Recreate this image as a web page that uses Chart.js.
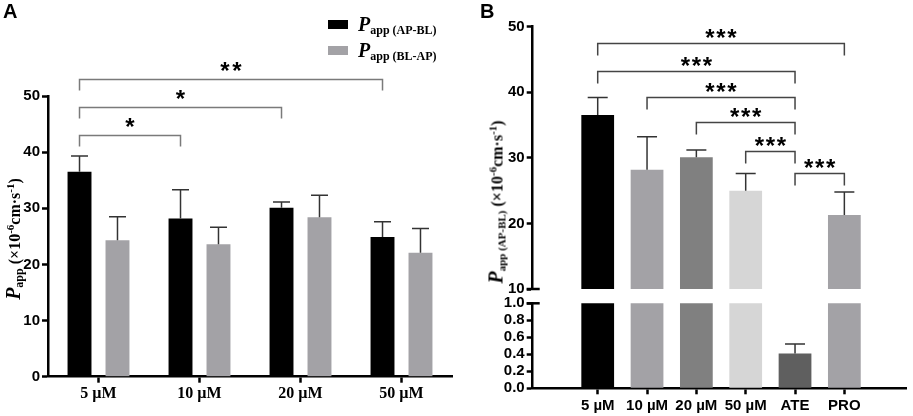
<!DOCTYPE html>
<html>
<head>
<meta charset="utf-8">
<script src="https://cdn.jsdelivr.net/npm/chart.js@4.4.1/dist/chart.umd.min.js"></script>
<style>
  body { margin: 0; background: #fff; }
  #wrap { position: relative; width: 913px; height: 416px; overflow: hidden; font-family: "Liberation Serif", serif; }
  canvas { position: absolute; }
  .panel { position: absolute; font: bold 20px "Liberation Sans", Arial, sans-serif; }
  .ytitle { position: absolute; white-space: nowrap; font-weight: bold; font-size: 16px; transform: translate(-50%, -50%) rotate(-90deg); }
  .ytitle i, .legend i { font-size: 20px; }
  .ytitle sub, .legend sub { font-size: 12px; vertical-align: -3px; }
  .ytitle sub.small { font-size: 11px; }
  .ytitle sup { font-size: 11px; vertical-align: 6px; }
  .legend { position: absolute; font-weight: bold; white-space: nowrap; }
  .sw { position: absolute; width: 20px; height: 9px; }
</style>
</head>
<body>
<div id="wrap">
  <canvas id="chartA" width="460" height="416" style="left:0;top:0"></canvas>
  <canvas id="chartBTop" width="453" height="300" style="left:460px;top:0"></canvas>
  <canvas id="chartBBottom" width="453" height="126" style="left:460px;top:290px"></canvas>

  <div class="panel" style="left:3px;top:0">A</div>
  <div class="panel" style="left:480px;top:0">B</div>

  <div class="sw" style="left:328px;top:20px;background:#000"></div>
  <div class="legend" style="left:358px;top:13px"><i>P</i><sub>app (AP-BL)</sub></div>
  <div class="sw" style="left:328px;top:46px;background:#a3a2a6"></div>
  <div class="legend" style="left:358px;top:39px"><i>P</i><sub>app (BL-AP)</sub></div>

  <div class="ytitle" style="left:14px;top:239px"><i>P</i><sub>app</sub> (×10<sup>-6</sup>cm·s<sup>-1</sup>)</div>
  <div class="ytitle" style="left:496px;top:202px"><i>P</i><sub class="small">app (AP-BL)</sub> (×10<sup>-6</sup>cm·s<sup>-1</sup>)</div>
</div>

<script>
// panel A: concentrations, both directions
const concLabels = ['5 µM', '10 µM', '20 µM', '50 µM'];
const papApBl = [36.5, 28.2, 30.1, 24.9];
const papApBlSd = [2.8, 5.1, 1.0, 2.7];
const papBlAp = [24.3, 23.6, 28.4, 22.1];
const papBlApSd = [4.2, 3.0, 3.9, 4.3];
const bracketsA = [[0, 1, 43.1, '*'], [0, 2, 48, '*'], [0, 3, 53, '**']];

// panel B: AP-BL only, with controls
const groupLabels = ['5 µM', '10 µM', '20 µM', '50 µM', 'ATE', 'PRO'];
const groupValues = [36.55, 28.2, 30.1, 25.0, 0.41, 21.3];
const groupSd = [2.65, 5.0, 1.1, 2.6, 0.11, 3.5];
const groupColors = ['#000000', '#a3a2a6', '#808080', '#d6d6d6', '#5f5f5f', '#a3a2a6'];
const bracketsB = [[0, 5, 47.5, '***'], [0, 4, 43.3, '***'], [1, 4, 39.3, '***'],
                   [2, 4, 35.4, '***'], [3, 4, 31.1, '***'], [4, 5, 27.7, '***']];
const upperTicksB = [10, 20, 30, 40, 50];
const lowerTicksB = [0, 0.2, 0.4, 0.6, 0.8, 1.0];

const tickFont = { family: '"Liberation Sans", Arial, sans-serif', size: 15, weight: 'bold' };

const errorBars = {
    id: 'errorBars',
    afterDatasetsDraw(chart, args, opts) {
        const { ctx, chartArea } = chart;
        ctx.save();
        ctx.beginPath();
        ctx.rect(chartArea.left, chartArea.top - 2, chartArea.width, chartArea.height + 2);
        ctx.clip();
        ctx.lineWidth = opts.width;
        ctx.strokeStyle = opts.color;
        chart.data.datasets.forEach((ds, di) => {
            const meta = chart.getDatasetMeta(di);
            const yScale = chart.scales[meta.yAxisID];
            meta.data.forEach((bar, i) => {
                const raw = ds.data[i];
                const v = typeof raw === 'object' ? raw.y : raw;
                const top = yScale.getPixelForValue(v + opts.sd[di][i]);
                ctx.beginPath();
                ctx.moveTo(bar.x, bar.y);
                ctx.lineTo(bar.x, top);
                ctx.moveTo(bar.x - opts.cap / 2, top);
                ctx.lineTo(bar.x + opts.cap / 2, top);
                ctx.stroke();
            });
        });
        ctx.restore();
    }
};

const brackets = {
    id: 'brackets',
    afterDraw(chart, args, opts) {
        if (!opts.list) return;
        const { ctx } = chart;
        const meta = chart.getDatasetMeta(0);
        const yScale = chart.scales.y;
        ctx.save();
        ctx.lineWidth = opts.width;
        ctx.strokeStyle = opts.color;
        ctx.fillStyle = '#000';
        ctx.font = 'bold 24px "Liberation Sans", Arial, sans-serif';
        ctx.textAlign = 'center';
        ctx.textBaseline = 'alphabetic';
        opts.list.forEach(([from, to, level, mark]) => {
            const x1 = meta.data[from].x;
            const x2 = meta.data[to].x;
            const py = Math.round(yScale.getPixelForValue(level)) + 0.5;
            ctx.beginPath();
            ctx.moveTo(x1, py + opts.drop);
            ctx.lineTo(x1, py);
            ctx.lineTo(x2, py);
            ctx.lineTo(x2, py + opts.drop);
            ctx.stroke();
            const mid = (x1 + x2) / 2;
            const n = mark.length;
            for (let k = 0; k < n; k++) {
                const sx = mid + (k - (n - 1) / 2) * opts.starGap;
                ctx.fillText('*', sx, py - opts.lift + 13.8);
            }
        });
        ctx.restore();
    }
};

const axisBreak = {
    id: 'axisBreak',
    afterDraw(chart, args, opts) {
        if (!opts.edge) return;
        const { ctx, chartArea } = chart;
        const y = opts.edge === 'top' ? chartArea.top : chartArea.bottom;
        ctx.save();
        ctx.strokeStyle = '#000';
        ctx.lineWidth = 2.5;
        ctx.beginPath();
        ctx.moveTo(chartArea.left - 6, y);
        ctx.lineTo(chartArea.left + 7, y);
        ctx.stroke();
        ctx.restore();
    }
};

function axisStyle() {
    return {
        border: { display: true, color: '#000', width: 2.5 },
        grid: { display: true, drawOnChartArea: false, drawTicks: true, tickLength: 6, tickWidth: 2.5, tickColor: '#000', offset: false }
    };
}

// ---- panel A
new Chart(document.getElementById('chartA'), {
    type: 'bar',
    data: {
        labels: concLabels,
        datasets: [
            { label: 'AP-BL', data: papApBl, backgroundColor: '#000000' },
            { label: 'BL-AP', data: papBlAp, backgroundColor: '#a3a2a6' }
        ]
    },
    options: {
        responsive: false,
        animation: false,
        categoryPercentage: 0.752,
        barPercentage: 0.63,
        layout: { padding: { left: 0, top: 96, right: 8, bottom: 0 } },
        plugins: {
            legend: { display: false },
            tooltip: { enabled: false },
            errorBars: { sd: [papApBlSd, papBlApSd], cap: 17, width: 1.5, color: '#333' },
            brackets: { list: bracketsA, drop: 11, lift: 14, starGap: 12, width: 1.5, color: '#7a7a7a' }
        },
        scales: {
            x: {
                ...axisStyle(),
                afterFit: (scale) => { scale.height = 39.3; },
                ticks: { color: '#000', padding: 2, font: { family: '"Liberation Serif", serif', size: 16, weight: 'bold' } }
            },
            y: {
                ...axisStyle(),
                min: 0, max: 50,
                afterFit: (scale) => { scale.width = 48; },
                ticks: { stepSize: 10, color: '#000', padding: 2, font: tickFont }
            }
        }
    },
    plugins: [errorBars, brackets]
});

// ---- panel B (broken axis: two charts sharing the same x range)
const xRange = { type: 'linear', min: -0.686, max: 5.632 };
const barsB = groupValues.map((v, i) => ({ x: i, y: v }));

function panelBOptions(top) {
    const yTicks = top ? upperTicksB : lowerTicksB;
    return {
        responsive: false,
        animation: false,
        categoryPercentage: 1,
        barPercentage: 0.664,
        layout: top
            ? { padding: { left: 0, top: 26.7, right: 6.3, bottom: 10.7 } }
            : { padding: { left: 0, top: 13.3, right: 6.3, bottom: 0 } },
        plugins: {
            legend: { display: false },
            tooltip: { enabled: false },
            errorBars: { sd: [groupSd], cap: 20, width: 1.5, color: '#333' },
            brackets: top ? { list: bracketsB, drop: 12, lift: 11.6, starGap: 11, width: 1.5, color: '#444' } : {},
            axisBreak: { edge: top ? 'bottom' : 'top' }
        },
        scales: {
            x: top
                ? { ...xRange, display: false }
                : {
                    ...xRange,
                    ...axisStyle(),
                    afterFit: (scale) => { scale.height = 27.7; },
                    afterBuildTicks: (scale) => { scale.ticks = groupLabels.map((_, i) => ({ value: i })); },
                    ticks: { color: '#000', padding: 3, autoSkip: false, font: tickFont, callback: (v) => groupLabels[v] }
                },
            y: {
                ...axisStyle(),
                min: yTicks[0], max: yTicks[yTicks.length - 1],
                afterFit: (scale) => { scale.width = 72.7; },
                afterBuildTicks: (scale) => { scale.ticks = yTicks.map((v) => ({ value: v })); },
                ticks: {
                    color: '#000', padding: 2, autoSkip: false, font: tickFont,
                    callback: (v) => top ? String(v) : v.toFixed(1)
                }
            }
        }
    };
}

new Chart(document.getElementById('chartBTop'), {
    type: 'bar',
    data: { datasets: [{ data: barsB, backgroundColor: groupColors }] },
    options: panelBOptions(true),
    plugins: [errorBars, brackets, axisBreak]
});

new Chart(document.getElementById('chartBBottom'), {
    type: 'bar',
    data: { datasets: [{ data: barsB, backgroundColor: groupColors }] },
    options: panelBOptions(false),
    plugins: [errorBars, brackets, axisBreak]
});
</script>
</body>
</html>
